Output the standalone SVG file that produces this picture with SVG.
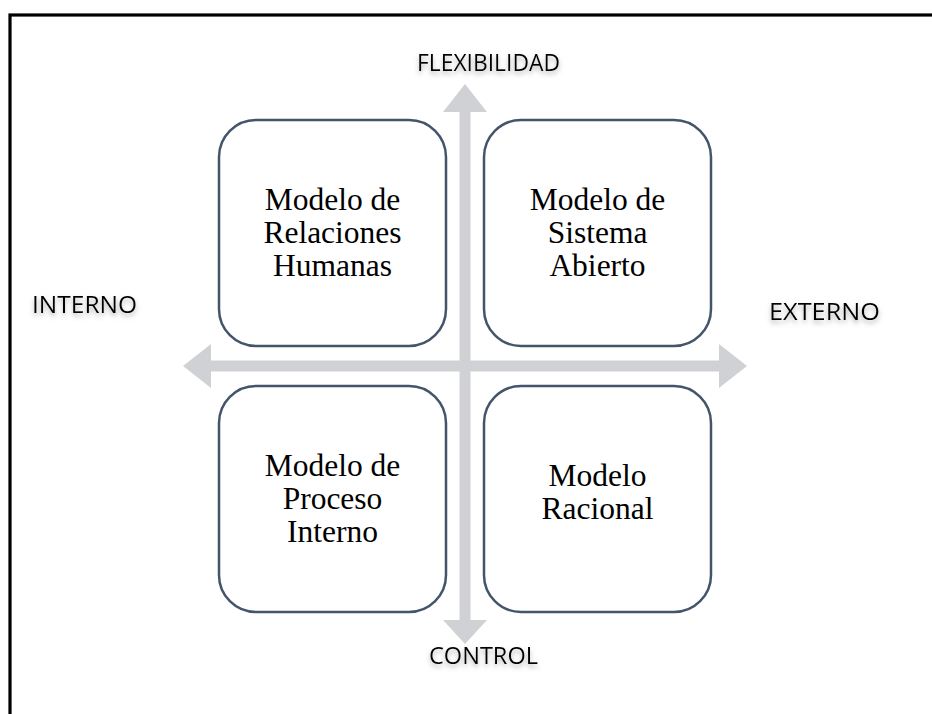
<svg xmlns="http://www.w3.org/2000/svg" width="932" height="714" viewBox="0 0 932 714">
  <defs>
    <filter id="glow" x="-20%" y="-60%" width="140%" height="240%">
      <feGaussianBlur in="SourceAlpha" stdDeviation="2.6" result="b"/>
      <feOffset in="b" dx="0" dy="2.5" result="o"/>
      <feFlood flood-color="#7a7a7a" flood-opacity="0.6"/>
      <feComposite in2="o" operator="in" result="s"/>
      <feMerge><feMergeNode in="s"/><feMergeNode in="SourceGraphic"/></feMerge>
    </filter>
  </defs>
  <style>
    .box { fill: #ffffff; stroke: #44546A; stroke-width: 2.5; }
    .arrow { fill: #D0D1D5; stroke: none; }
    .node-text { font-family: "Liberation Serif", "Times New Roman", serif; font-size: 31.5px; fill: #000000; text-anchor: middle; }
    .axis-label { font-family: "Open Sans", "Liberation Sans", sans-serif; font-size: 24.5px; fill: #000000; filter: url(#glow); }
  </style>
  <rect x="0" y="0" width="932" height="714" fill="#ffffff"/>
  <rect id="frame" x="10" y="15" width="940" height="720" fill="none" stroke="#000000" stroke-width="3.2"/>

  <g id="connectors">
    <polygon class="arrow" points="183,366 211,344 211,360.5 719,360.5 719,344 747,366 719,388 719,371.5 211,371.5 211,388"/>
    <polygon class="arrow" points="465,84 487,112 470.5,112 470.5,620 487,620 465,644 443,620 459.5,620 459.5,112 443,112"/>
  </g>

  <g id="node-relaciones-humanas">
    <rect class="box" x="219" y="120" width="227" height="226" rx="37" ry="37"/>
    <text class="node-text" x="332.5" y="210">Modelo de</text>
    <text class="node-text" x="332.5" y="243">Relaciones</text>
    <text class="node-text" x="332.5" y="276">Humanas</text>
  </g>
  <g id="node-sistema-abierto">
    <rect class="box" x="484" y="120" width="227" height="226" rx="37" ry="37"/>
    <text class="node-text" x="597.5" y="210">Modelo de</text>
    <text class="node-text" x="597.5" y="243">Sistema</text>
    <text class="node-text" x="597.5" y="276">Abierto</text>
  </g>
  <g id="node-proceso-interno">
    <rect class="box" x="219" y="386" width="227" height="226" rx="37" ry="37"/>
    <text class="node-text" x="332.5" y="476">Modelo de</text>
    <text class="node-text" x="332.5" y="509">Proceso</text>
    <text class="node-text" x="332.5" y="542">Interno</text>
  </g>
  <g id="node-racional">
    <rect class="box" x="484" y="386" width="227" height="226" rx="37" ry="37"/>
    <text class="node-text" x="597.5" y="486">Modelo</text>
    <text class="node-text" x="597.5" y="519">Racional</text>
  </g>

  <g id="labels">
    <text class="axis-label" x="417" y="71" textLength="143" lengthAdjust="spacingAndGlyphs">FLEXIBILIDAD</text>
    <text class="axis-label" x="429" y="664" textLength="109" lengthAdjust="spacingAndGlyphs">CONTROL</text>
    <text class="axis-label" x="32" y="313" textLength="105" lengthAdjust="spacingAndGlyphs">INTERNO</text>
    <text class="axis-label" x="769" y="320" textLength="111" lengthAdjust="spacingAndGlyphs">EXTERNO</text>
  </g>
</svg>
